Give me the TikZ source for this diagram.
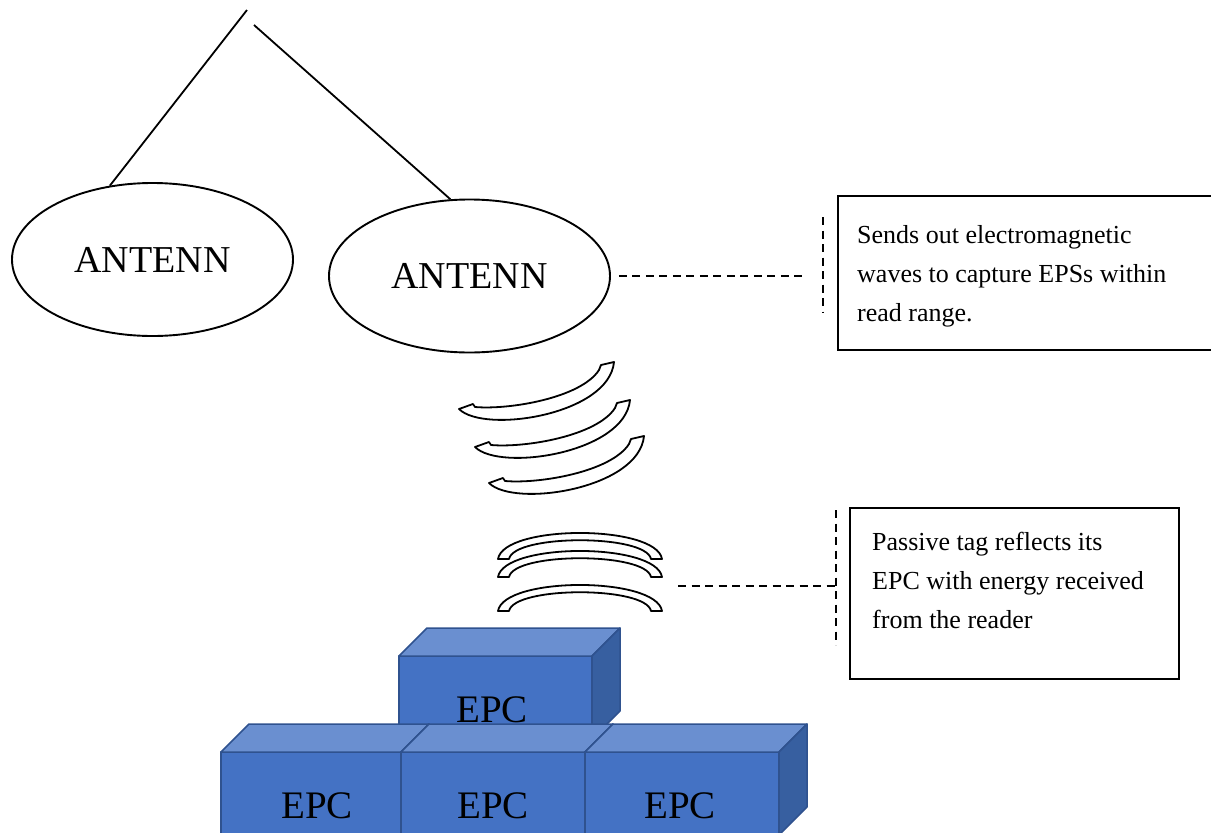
\documentclass[tikz,border=0pt]{standalone}
\usepackage{fontspec}
\setmainfont{Liberation Serif}
\usetikzlibrary{shapes.geometric}

\definecolor{epcfront}{HTML}{4472C4}
\definecolor{epctop}{HTML}{6A8FD0}
\definecolor{epcside}{HTML}{375FA0}
\definecolor{epcedge}{HTML}{2F528F}

\tikzset{
  antenna/.style={draw, ellipse, line width=1.9pt, minimum width=281pt,
    minimum height=153pt, inner sep=0pt, font=\fontsize{38}{40}\selectfont},
  feedline/.style={line width=1.8pt},
  leader/.style={line width=1.7pt, dash pattern=on 8pt off 5.5pt},
  notebox/.style={draw, line width=1.8pt, rectangle, anchor=north west, inner sep=0pt},
  notetext/.style={anchor=north west, inner sep=0pt, align=left,
    font=\fontsize{26}{39}\selectfont},
  wavestyle/.style={draw, fill=white, line width=1.8pt, line join=round},
  facestyle/.style={draw=epcedge, line width=1.5pt, line join=round},
  epclabel/.style={anchor=base, inner sep=0pt, font=\fontsize{39}{40}\selectfont},
  % outgoing wave band, tilted
  pics/tiltwave/.style={code={
    \path[wavestyle] (0,0) .. controls (25,25) and (150,6) .. (155,-47)
      -- (142,-44) -- (140,-39) .. controls (122,-11) and (50,1) .. (16,-2)
      -- (14,-5) -- cycle;}},
  % reflected wave band, level
  pics/flatwave/.style={code={
    \path[wavestyle] (-82,26) .. controls (-76,-8.7) and (76,-8.7) .. (82,26)
      -- (71,26) .. controls (66,1) and (-66,1) .. (-71,26) -- cycle;}},
  % a tag block: front face of the given width, top and right faces in depth
  pics/epcbox/.style={code={
    \path[facestyle, fill=epcfront] (0,0) rectangle (#1,83);
    \path[facestyle, fill=epctop] (0,0) -- (28,-28) -- (#1+28,-28) -- (#1,0) -- cycle;
    \path[facestyle, fill=epcside] (#1,0) -- (#1+28,-28) -- (#1+28,55) -- (#1,83) -- cycle;}}
}

\begin{document}
\begin{tikzpicture}[x=1pt,y=-1pt]
\useasboundingbox (0,0) rectangle (1211,833);
\clip (0,0) rectangle (1211,833);

% reader antennas and their feed lines
\node[antenna] (ant1) at (152.5,259.5) {ANTENN};
\node[antenna] (ant2) at (469.5,276) {ANTENN};
\coordinate (apex1) at (247,10);
\coordinate (apex2) at (254,25);
\draw[feedline] (apex1) -- (ant1.120);
\draw[feedline] (apex2) -- (ant2.104);

% outgoing waves
\pic at (459,409) {tiltwave};
\pic at (475,447) {tiltwave};
\pic at (489,483) {tiltwave};

% reflected waves
\pic at (580,533) {flatwave};
\pic at (580,551) {flatwave};
\pic at (580,585) {flatwave};
\coordinate (tagwave) at (662,586);

% tag blocks
\pic at (399,656) {epcbox=193};
\pic at (221,752) {epcbox=180};
\pic at (401,752) {epcbox=184};
\pic at (585,752) {epcbox=194};
\node[epclabel] (epc0) at (492,722) {EPC};
\node[epclabel] (epc1) at (317,818) {EPC};
\node[epclabel] (epc2) at (493,818) {EPC};
\node[epclabel] (epc3) at (680,818) {EPC};

% callout for the reader
\node[notebox, minimum width=420pt, minimum height=154pt] (note1) at (837,195) {};
\node[notetext] (note1text) at (857,225)
  {Sends out electromagnetic\\waves to capture EPSs within\\read range.};
\coordinate (lead1end) at (806,276);
\coordinate (brk1top) at (823,217);
\coordinate (brk1bot) at (823,312);
\draw[leader, shorten <=8pt] (ant2.east) -- (lead1end);
\draw[leader] (brk1top) -- (brk1bot);

% callout for the tag
\node[notebox, minimum width=329pt, minimum height=171pt] (note2) at (849,507) {};
\node[notetext] (note2text) at (872,532)
  {Passive tag reflects its\\EPC with energy received\\from the reader};
\coordinate (brk2mid) at (836,586);
\coordinate (brk2top) at (836,510);
\coordinate (brk2bot) at (836,645);
\draw[leader, shorten <=16pt] (tagwave) -- (brk2mid);
\draw[leader] (brk2top) -- (brk2bot);
\end{tikzpicture}
\end{document}
